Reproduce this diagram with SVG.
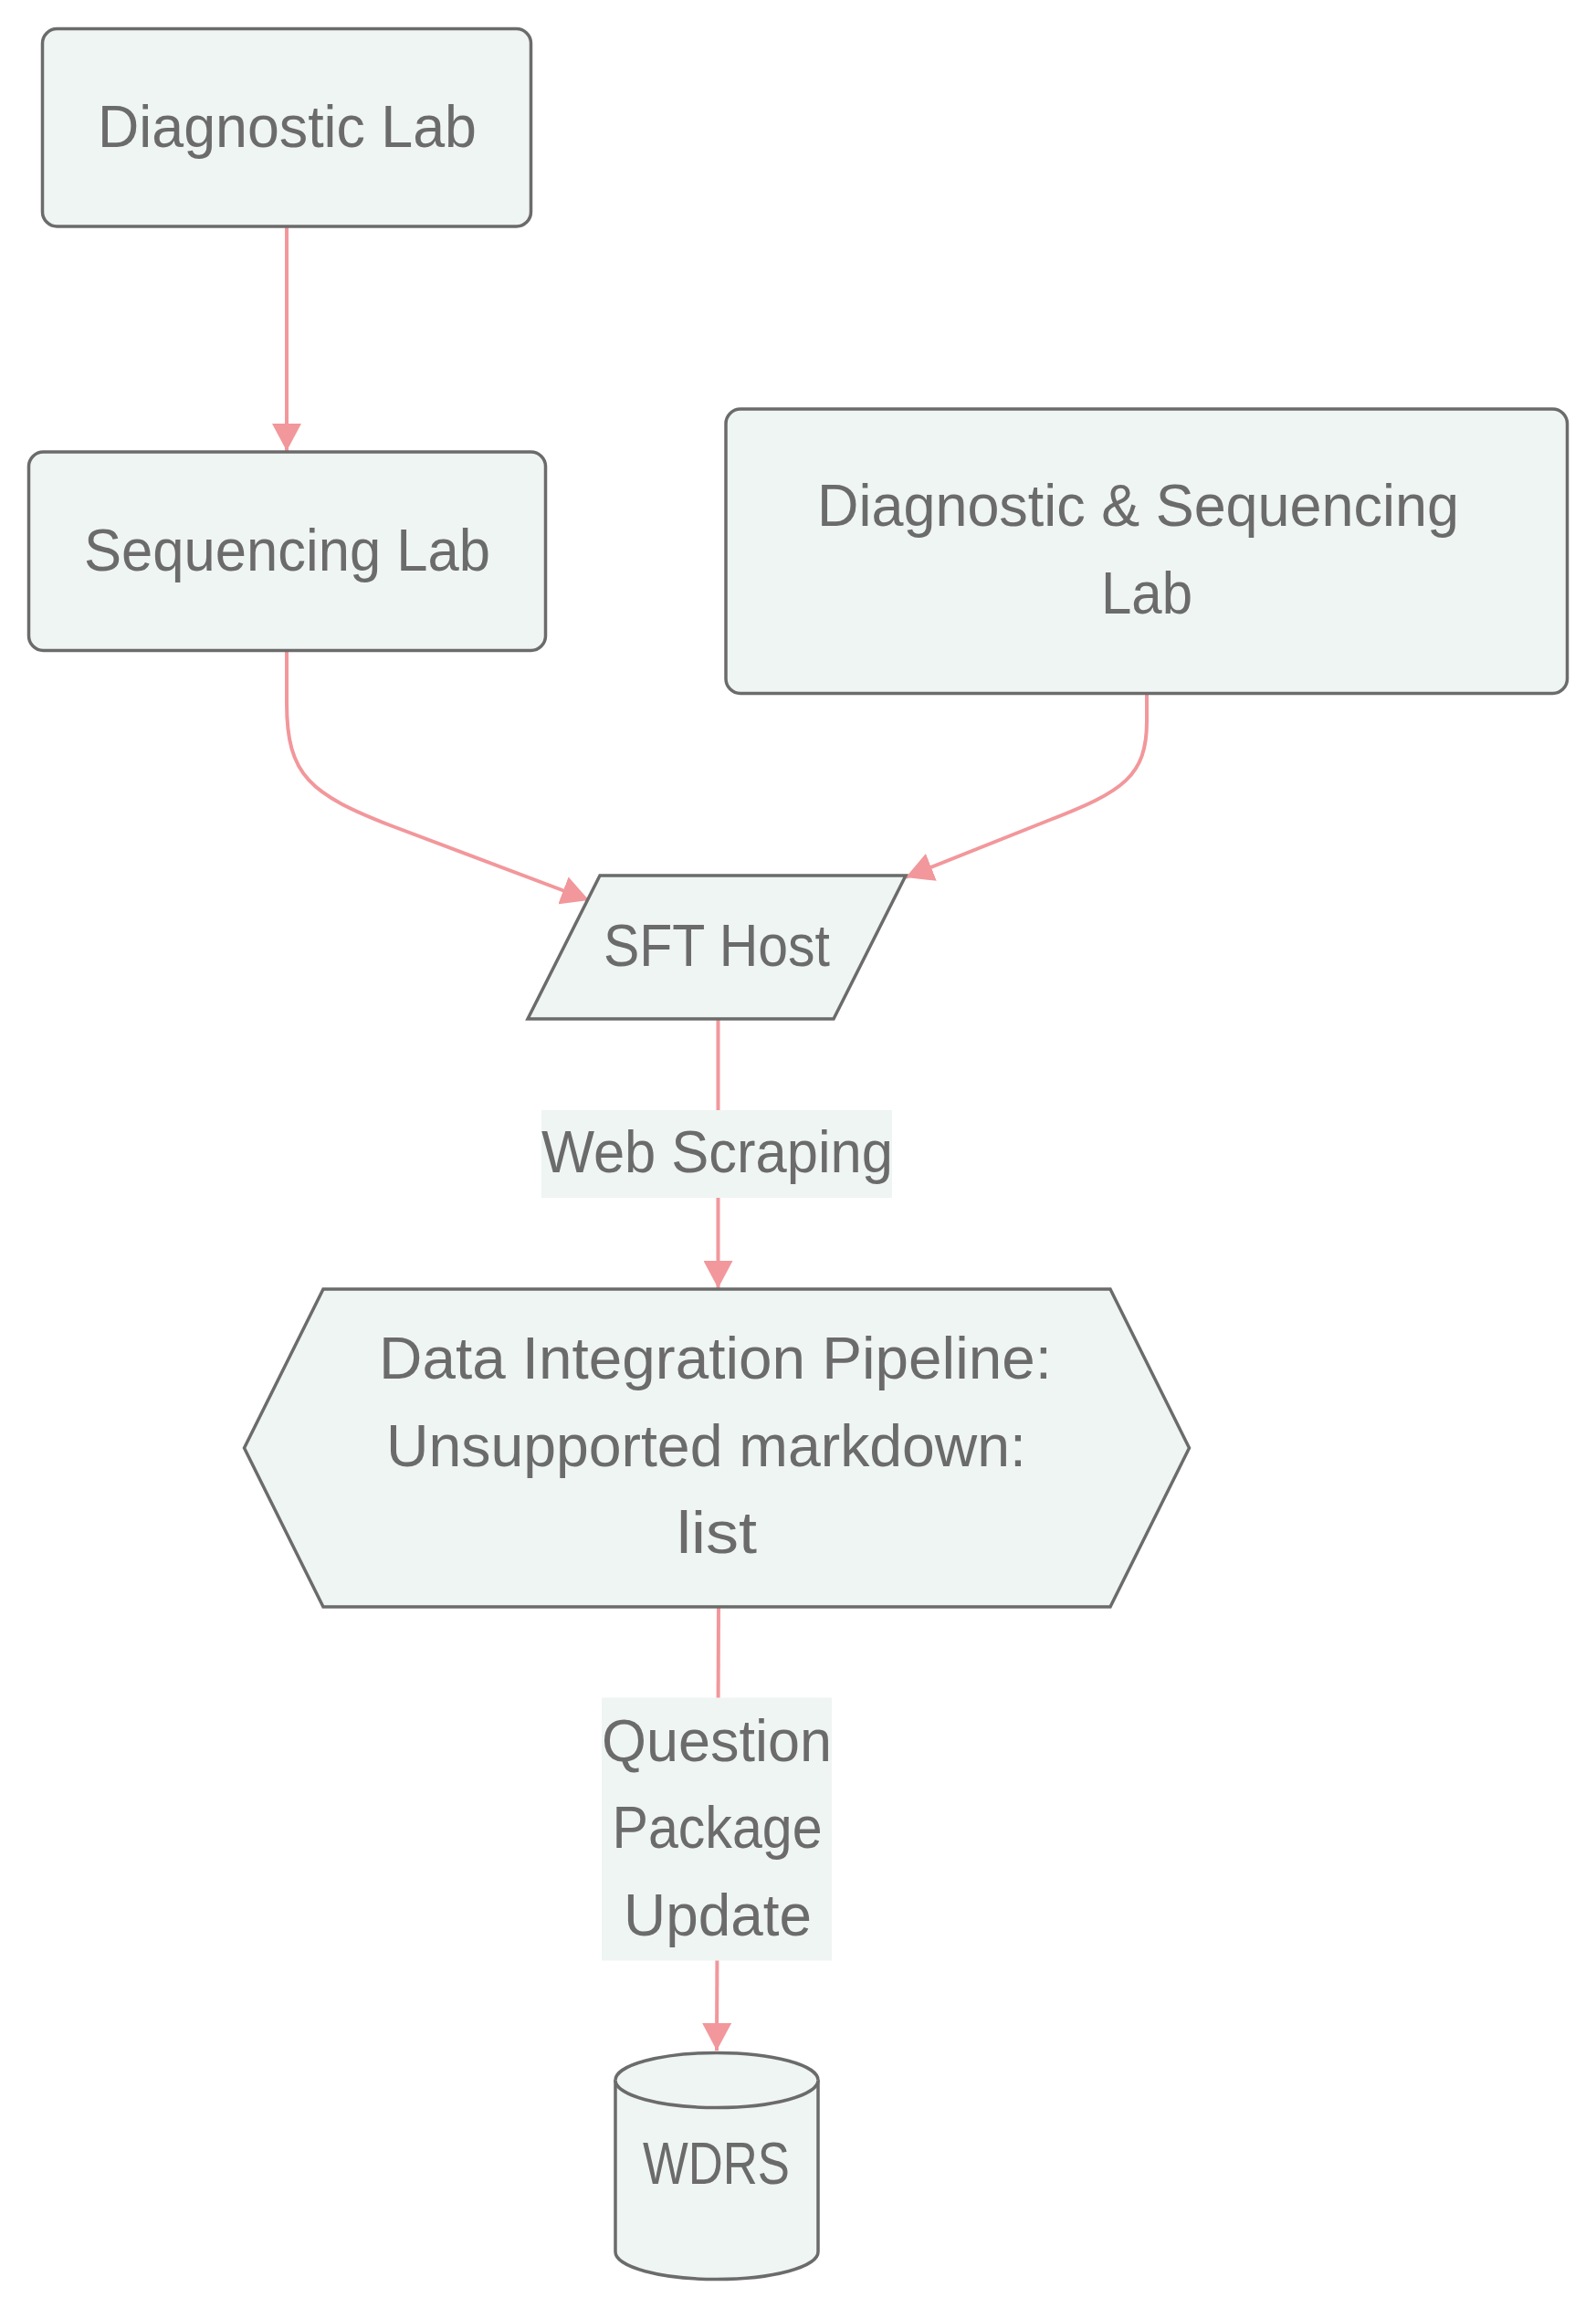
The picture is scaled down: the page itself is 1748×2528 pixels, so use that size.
<svg xmlns="http://www.w3.org/2000/svg" width="1748" height="2528" viewBox="0 0 1748 2528">
  <style>
    .node { fill: #eff5f3; stroke: #6b6b6b; stroke-width: 3.5; }
    .edge { fill: none; stroke: #f2979b; stroke-width: 4; }
    .lbl { font-family: "Liberation Sans", Arial, sans-serif; font-size: 64px; fill: #6b6b6b; text-anchor: middle; }
    .elbg { fill: #eff5f3; stroke: none; }
  </style>
  <defs>
    <marker id="arrow" markerUnits="userSpaceOnUse" viewBox="0 0 10 10" refX="10" refY="5" markerWidth="30" markerHeight="32" preserveAspectRatio="none" orient="auto">
      <path d="M0,0 L10,5 L0,10 z" fill="#f2979b"/>
    </marker>
  </defs>
  <rect width="1748" height="2528" fill="#ffffff"/>

  <g id="connectors">
    <path class="edge" d="M314,248 L314,494" marker-end="url(#arrow)"/>
    <path class="edge" d="M314,713 L314,770 C314,850 340,870 430,905 L645,986" marker-end="url(#arrow)"/>
    <path class="edge" d="M1256,760 L1256,790 C1256,850 1230,867 1150,898 L992,961" marker-end="url(#arrow)"/>
    <path class="edge" d="M786.5,1117 L786.5,1411" marker-end="url(#arrow)"/>
    <path class="edge" d="M787,1760 L785,2246" marker-end="url(#arrow)"/>
  </g>

  <g id="edge-labels">
    <g id="label-web-scraping">
      <rect class="elbg" x="593" y="1216" width="384" height="96"/>
      <text class="lbl" x="785.5" y="1284" textLength="385" lengthAdjust="spacingAndGlyphs">Web Scraping</text>
    </g>
    <g id="label-question-package-update">
      <rect class="elbg" x="659" y="1859.5" width="252" height="288"/>
      <text class="lbl" x="785" y="1928.5" textLength="252" lengthAdjust="spacingAndGlyphs">Question</text>
      <text class="lbl" x="785.5" y="2024" textLength="230" lengthAdjust="spacingAndGlyphs">Package</text>
      <text class="lbl" x="786" y="2120" textLength="206" lengthAdjust="spacingAndGlyphs">Update</text>
    </g>
  </g>

  <g id="diagnostic-lab">
    <rect class="node" x="46.5" y="31.5" width="535" height="216.5" rx="16" ry="16"/>
    <text class="lbl" x="314.5" y="161" textLength="415" lengthAdjust="spacingAndGlyphs">Diagnostic Lab</text>
  </g>

  <g id="sequencing-lab">
    <rect class="node" x="31.5" y="495" width="566" height="217.5" rx="16" ry="16"/>
    <text class="lbl" x="314.5" y="625" textLength="445" lengthAdjust="spacingAndGlyphs">Sequencing Lab</text>
  </g>

  <g id="diagnostic-sequencing-lab">
    <rect class="node" x="795" y="448" width="921.5" height="311.5" rx="16" ry="16"/>
    <text class="lbl" x="1246.5" y="576" textLength="703" lengthAdjust="spacingAndGlyphs">Diagnostic &amp; Sequencing</text>
    <text class="lbl" x="1256" y="672" textLength="100" lengthAdjust="spacingAndGlyphs">Lab</text>
  </g>

  <g id="sft-host">
    <polygon class="node" points="657,959 992,959 913,1116 578,1116"/>
    <text class="lbl" x="785" y="1058" textLength="248" lengthAdjust="spacingAndGlyphs">SFT Host</text>
  </g>

  <g id="data-integration-pipeline">
    <polygon class="node" points="354,1412 1216,1412 1302.5,1586 1216,1760 354,1760 267.5,1586"/>
    <text class="lbl" x="783.5" y="1510" textLength="737" lengthAdjust="spacingAndGlyphs">Data Integration Pipeline:</text>
    <text class="lbl" x="773.5" y="1606" textLength="701" lengthAdjust="spacingAndGlyphs">Unsupported markdown:</text>
    <text class="lbl" x="785" y="1701" textLength="88" lengthAdjust="spacingAndGlyphs">list</text>
  </g>

  <g id="wdrs">
    <path class="node" d="M674,2278.5 A111,30 0 0 1 896,2278.5 L896,2466.5 A111,30 0 0 1 674,2466.5 Z"/>
    <path class="node" d="M674,2278.5 A111,30 0 0 0 896,2278.5" fill="none"/>
    <text class="lbl" x="784.5" y="2392" textLength="161" lengthAdjust="spacingAndGlyphs">WDRS</text>
  </g>
</svg>
